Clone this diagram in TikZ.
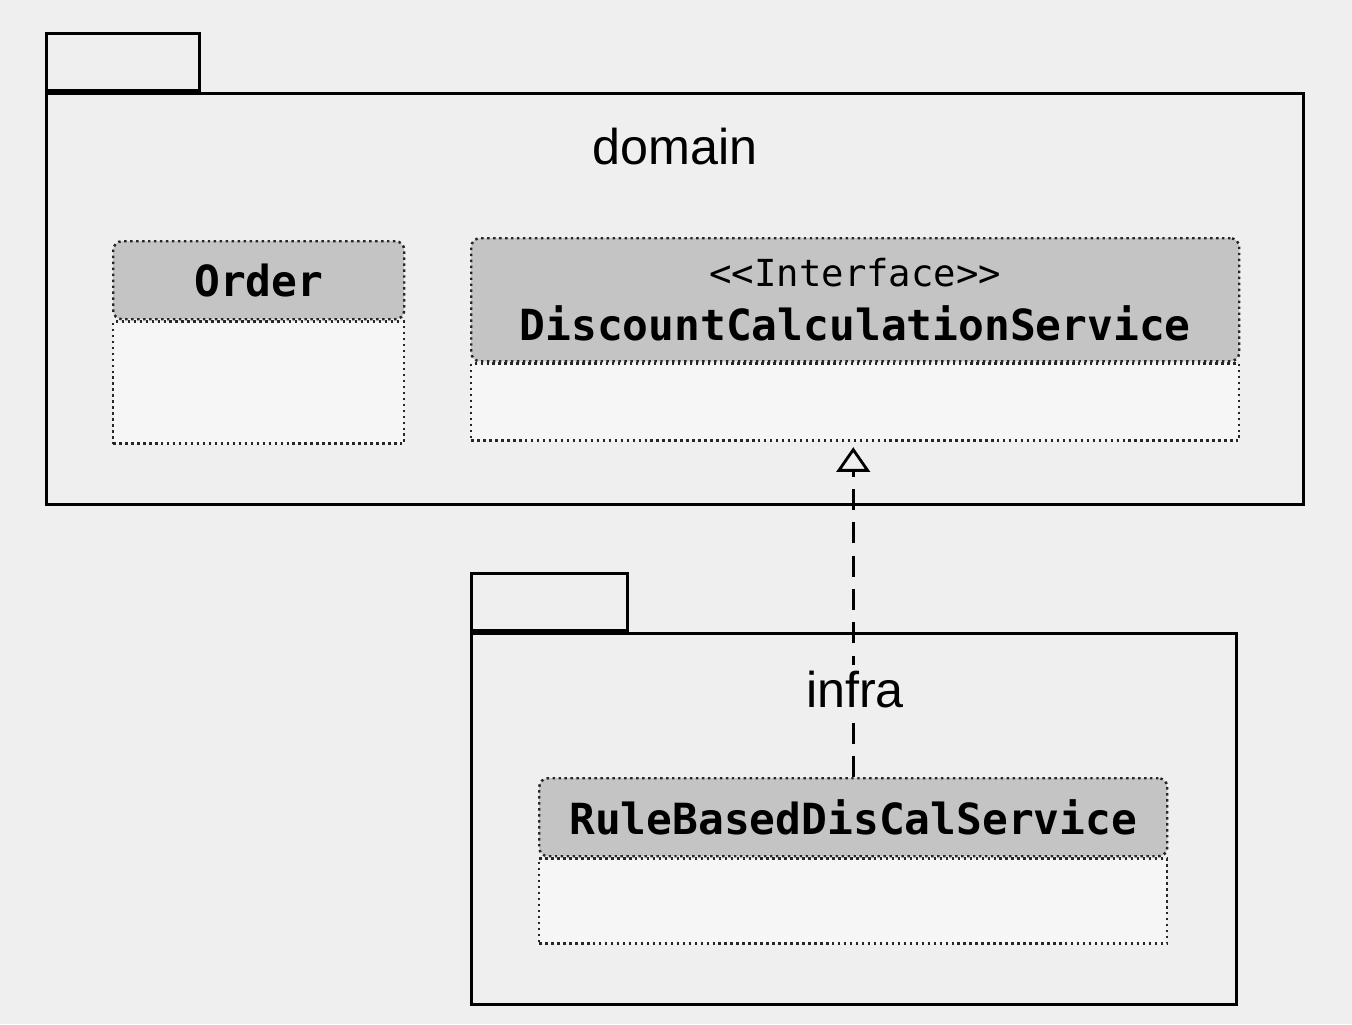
\documentclass[tikz,border=0pt]{standalone}
\usepackage{fontspec}
\setmainfont{Liberation Sans}
\setmonofont{DejaVu Sans Mono}
\usetikzlibrary{positioning,arrows.meta}
\definecolor{paper}{RGB}{239,239,239}
\definecolor{headgray}{RGB}{196,196,196}
\definecolor{bodygray}{RGB}{246,246,246}
\tikzset{
  pkgbody/.style={draw,line width=0.9pt,inner sep=0pt},
  pkgtab/.style={draw,line width=0.9pt,inner sep=0pt,minimum width=1.53cm,minimum height=0.57cm,anchor=south west},
  pkglabel/.style={font=\fontsize{14.3}{16}\selectfont,fill=paper,inner sep=2pt},
  clshead/.style={draw=black!85,densely dotted,line width=0.7pt,fill=headgray,
    rounded corners=2.5pt,inner sep=0pt,anchor=north west,
    font=\ttfamily\bfseries\fontsize{12.2}{16.5}\selectfont},
  clsbody/.style={draw=black!85,densely dotted,line width=0.7pt,fill=bodygray,
    inner sep=0pt,anchor=north},
  realize/.style={line width=0.85pt,dash pattern=on 6pt off 3.5pt,
    -{Triangle[open,width=9.5pt,length=7pt,line width=0.8pt]},shorten >=1.5pt}
}
\begin{document}
\begin{tikzpicture}
\useasboundingbox (0,0) rectangle (13.52,10.24);
\fill[paper] (0,0) rectangle (13.52,10.24);

% domain package
\node[pkgbody,minimum width=12.57cm,minimum height=4.11cm,anchor=north west] (domain) at (0.45,9.32) {};
\node[pkgtab] (domaintab) at (domain.north west) {};

\node[clshead,minimum width=2.91cm,minimum height=0.78cm] (order) at (1.12,7.84) {Order};
\node[clsbody,minimum width=2.91cm,minimum height=1.22cm] (orderbody) at (order.south) {};

\node[clshead,minimum width=7.68cm,minimum height=1.23cm,align=center] (dcs) at (4.70,7.87)
  {{\mdseries\fontsize{10.6}{12}\selectfont \textless{}\textless{}Interface\textgreater{}\textgreater{}}\\[-1pt]
   DiscountCalculationService};
\node[clsbody,minimum width=7.68cm,minimum height=0.77cm] (dcsbody) at (dcs.south) {};

% infra package
\node[pkgbody,minimum width=7.65cm,minimum height=3.71cm,anchor=north west] (infra) at (4.70,3.92) {};
\node[pkgtab,minimum width=1.56cm] (infratab) at (infra.north west) {};

\node[clshead,minimum width=6.28cm,minimum height=0.78cm] (rbdcs) at (5.38,2.47) {RuleBasedDisCalService};
\node[clsbody,minimum width=6.28cm,minimum height=0.85cm] (rbdcsbody) at (rbdcs.south) {};

% realization
\draw[realize] (rbdcs.north) -- (rbdcs.north |- dcsbody.south);

% package names
\node[pkglabel] (domainlabel) at (6.75,8.77) {domain};
\node[pkglabel] (infralabel) at (8.55,3.34) {infra};
\end{tikzpicture}
\end{document}
